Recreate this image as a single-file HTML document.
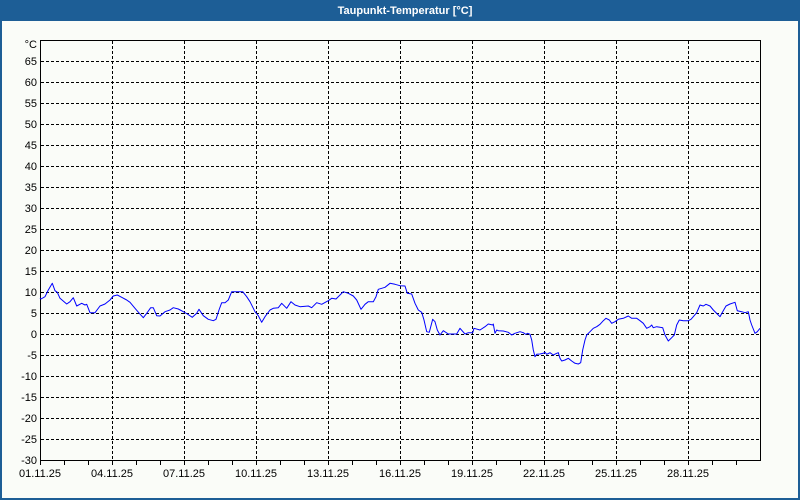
<!DOCTYPE html>
<html><head><meta charset="utf-8"><style>
html,body{margin:0;padding:0;background:#fafcf8;}
svg{display:block;}
text{font-family:"Liberation Sans",Tahoma,sans-serif;font-size:11px;fill:#000;}
</style></head><body>
<svg width="800" height="500" viewBox="0 0 800 500" xmlns="http://www.w3.org/2000/svg">
<rect x="0" y="0" width="800" height="500" fill="#fafcf8"/>
<rect x="0" y="0" width="800" height="21" fill="#1d5e96"/>
<rect x="0" y="0" width="2" height="500" fill="#1d5e96"/>
<rect x="798" y="0" width="2" height="500" fill="#1d5e96"/>
<rect x="0" y="498" width="800" height="2" fill="#1d5e96"/>
<text x="405" y="14" text-anchor="middle" style="font-weight:bold;font-size:11px;fill:#fff">Taupunkt-Temperatur [°C]</text>

<g stroke="#000" stroke-width="1" stroke-dasharray="3,2" shape-rendering="crispEdges" fill="none">
<path d="M41 61.5H760M41 82.5H760M41 103.5H760M41 124.5H760M41 145.5H760M41 166.5H760M41 187.5H760M41 208.5H760M41 229.5H760M41 250.5H760M41 271.5H760M41 292.5H760M41 313.5H760M41 334.5H760M41 355.5H760M41 376.5H760M41 397.5H760M41 418.5H760M41 439.5H760"/>
<path d="M112.5 41V460M184.5 41V460M256.5 41V460M328.5 41V460M400.5 41V460M472.5 41V460M544.5 41V460M616.5 41V460M688.5 41V460"/>
</g>
<g stroke="#000" stroke-width="1" shape-rendering="crispEdges" fill="none">
<rect x="40.5" y="40.5" width="720" height="420"/>
<path d="M40.5 460V465M64.5 460V465M88.5 460V465M112.5 460V465M136.5 460V465M160.5 460V465M184.5 460V465M208.5 460V465M232.5 460V465M256.5 460V465M280.5 460V465M304.5 460V465M328.5 460V465M352.5 460V465M376.5 460V465M400.5 460V465M424.5 460V465M448.5 460V465M472.5 460V465M496.5 460V465M520.5 460V465M544.5 460V465M568.5 460V465M592.5 460V465M616.5 460V465M640.5 460V465M664.5 460V465M688.5 460V465M712.5 460V465M736.5 460V465"/>
</g>
<g text-anchor="end">
<text x="37" y="48">°C</text>
<text x="37" y="65">65</text>
<text x="37" y="86">60</text>
<text x="37" y="107">55</text>
<text x="37" y="128">50</text>
<text x="37" y="149">45</text>
<text x="37" y="170">40</text>
<text x="37" y="191">35</text>
<text x="37" y="212">30</text>
<text x="37" y="233">25</text>
<text x="37" y="254">20</text>
<text x="37" y="275">15</text>
<text x="37" y="296">10</text>
<text x="37" y="317">5</text>
<text x="37" y="338">0</text>
<text x="37" y="359">-5</text>
<text x="37" y="380">-10</text>
<text x="37" y="401">-15</text>
<text x="37" y="422">-20</text>
<text x="37" y="443">-25</text>
<text x="37" y="464">-30</text>
</g>
<g text-anchor="middle">
<text x="40" y="477">01.11.25</text>
<text x="112" y="477">04.11.25</text>
<text x="184" y="477">07.11.25</text>
<text x="256" y="477">10.11.25</text>
<text x="328" y="477">13.11.25</text>
<text x="400" y="477">16.11.25</text>
<text x="472" y="477">19.11.25</text>
<text x="544" y="477">22.11.25</text>
<text x="616" y="477">25.11.25</text>
<text x="688" y="477">28.11.25</text>
</g>
<polyline fill="none" stroke="#0000ff" stroke-width="1" stroke-linejoin="round" points="40,298 41,299 45,296.7 48.3,290 52.3,283.3 55,290.7 57.3,292.3 60,298.3 66.7,304 70,301.7 73.3,297.7 76.7,306 81.7,303.3 85,305 86.7,304.3 90,312.7 95,312.7 100,306 105,304 110,300 113.3,296 117.3,295 121.7,297.3 126.7,300 130,302.3 135,308.3 139.3,313.3 143.3,317.7 146.7,313.3 150.7,307.7 153.3,307.7 156.7,315.7 160,316 165,311.7 170,310 173.3,307.7 178.3,309 183.3,311.7 187.3,314 192.3,317.3 196.7,313.3 199,309.3 203.3,315.7 208.3,319.3 213.3,320.7 216,319.3 219,310 221.7,302.7 225,302.7 228.3,300 231.7,291.7 236.7,291.7 242.7,291.7 246.7,296.7 250,301.7 255,311.7 258.3,315.7 261.7,322.3 265,316.7 270,310 273.3,308.3 278.3,307.7 281.7,303.3 286.7,308.3 291,301.7 295,305 300,306.7 308.3,306 311.7,307.7 316.7,302.7 321.7,304.3 328.3,300.7 331.7,298.3 336,299 340,295 343.3,291.7 348.3,293.3 353.3,296 356.7,300 361,309.3 365,304.3 368.3,301.7 373.3,301.7 376,296.7 378.3,289.3 381.7,288.3 385,287.3 390,283.3 395,284.3 400,285.7 405,286 407.3,293.3 411.7,294 415,303.3 418.3,310 421.7,312.3 424,320 426.7,331.7 429.3,332.3 432.7,319.3 435,321.7 437.3,330 440,335 443.3,330.7 448.3,334 456.7,334 460,328.3 465,334 468.3,332.7 472.7,332.7 474,328.3 480,330 485,326.7 488.3,324 492.7,325 493.3,324 495,333.3 496.7,330 498.3,330.7 503.3,331 508.3,332.3 511.7,335 515,333.3 520,331.7 523.3,332.7 525.7,334.3 527.7,333.3 530,334.3 531.7,340 533.3,350 535,356.7 536.7,354.3 540,354 543.3,353.3 545,352.3 546.7,354.3 550,352.7 553.3,355 556.7,353.3 558.3,352.7 560,358.3 561.7,361 565,360 568.3,358.3 571.7,361 575,363.3 578.3,364 580.7,362.7 582.7,350 585,340 586.7,335 590,331.7 593.3,328.3 596.7,326.7 600,324.3 603.3,320.7 606,318.3 609.3,320 611.7,323.3 615,321.7 618.3,319.3 623.3,318.3 628.3,316 631.7,318.3 636.7,318.3 640,320.7 643.3,323.3 646.7,328.3 650,326.7 651.7,325 653.3,327.7 656.7,326.7 660,327.3 662.7,327.7 665,335 668.3,341 671.7,337.7 674.3,335 676.7,325 679.3,320 683.3,320.7 688.3,320.7 691,319.3 693.3,316.7 696.7,312.7 700,305 703.3,306 706,304.3 710,306 713.3,310 717.3,314 720,316.7 722.7,311.7 726,306 730,304 735,302.3 737.3,310.7 741.7,311.7 745,312.7 748.3,311.7 750,320 751.7,325 755,333.3 757.3,331.7 760,328.3"/>
</svg>
</body></html>
